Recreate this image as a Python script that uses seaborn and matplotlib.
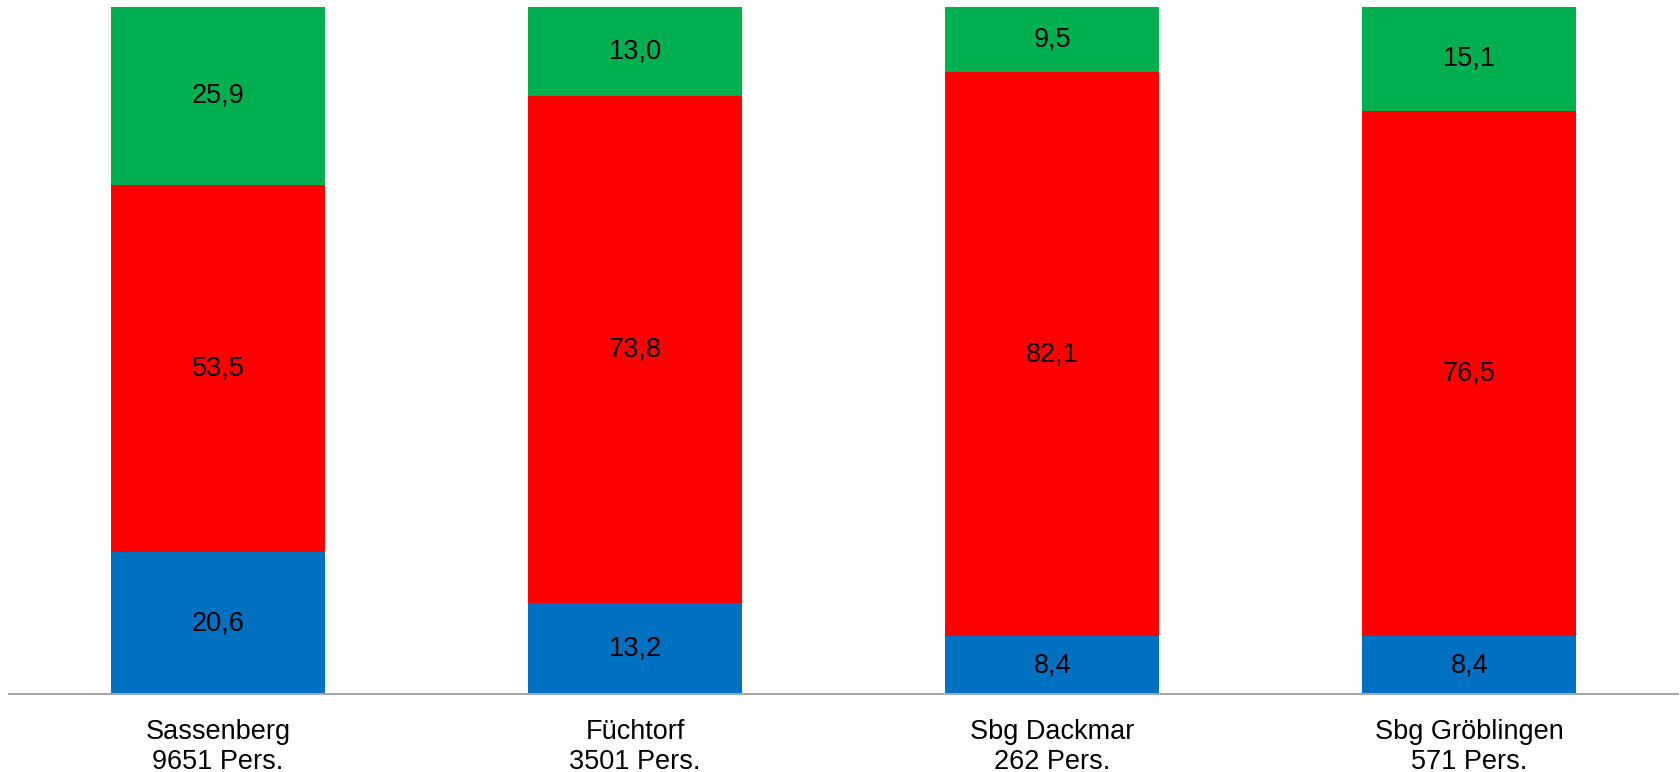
import matplotlib
matplotlib.use("Agg")
import matplotlib.pyplot as plt
import seaborn as sns
import pandas as pd
import numpy as np

categories = ["Sassenberg\n9651 Pers.", "Füchtorf\n3501 Pers.", "Sbg Dackmar\n262 Pers.", "Sbg Gröblingen\n571 Pers."]
blue_vals = [20.6, 13.2, 8.4, 8.4]
red_vals = [53.5, 73.8, 82.1, 76.5]
green_vals = [25.9, 13.0, 9.5, 15.1]

c_blue = "#0070C0"
c_red = "#FF0000"
c_green = "#00B050"

sns.set_theme(style="white")
plt.rcParams['font.family'] = ['Liberation Sans', 'DejaVu Sans']

df = pd.DataFrame({"cat": categories, "blue": blue_vals, "red": red_vals, "green": green_vals})
df["cum_blue"] = df["blue"]
df["cum_red"] = df["blue"] + df["red"]
df["cum_green"] = df["cum_red"] + df["green"]

fig = plt.figure(figsize=(16.81, 7.72), dpi=100)
ax = fig.add_axes([9.4 / 1681, (772 - 694) / 772, (1678 - 9.4) / 1681, (694 - 7) / 772])

w = 0.513
sns.barplot(data=df, x="cat", y="cum_green", color=c_green, width=w, linewidth=0, saturation=1, ax=ax)
sns.barplot(data=df, x="cat", y="cum_red", color=c_red, width=w, linewidth=0, saturation=1, ax=ax)
sns.barplot(data=df, x="cat", y="cum_blue", color=c_blue, width=w, linewidth=0, saturation=1, ax=ax)

fs = 19.5
for i, row in df.iterrows():
    ax.text(i, row["blue"] / 2, f"{row['blue']:.1f}".replace(".", ","), ha="center", va="center", fontsize=fs, color="black")
    ax.text(i, row["cum_blue"] + row["red"] / 2, f"{row['red']:.1f}".replace(".", ","), ha="center", va="center", fontsize=fs, color="black")
    ax.text(i, row["cum_red"] + row["green"] / 2, f"{row['green']:.1f}".replace(".", ","), ha="center", va="center", fontsize=fs, color="black")

ax.set_xlim(-0.5, 3.5)
ax.set_ylim(0, 100)
ax.set_xlabel("")
ax.set_ylabel("")
ax.set_yticks([])
ax.tick_params(axis="x", length=0, pad=18, labelsize=fs, colors="black")
for lbl in ax.get_xticklabels():
    lbl.set_linespacing(1.2)
for s in ["top", "left", "right"]:
    ax.spines[s].set_visible(False)
ax.spines["bottom"].set_color("#A6A6A6")
ax.spines["bottom"].set_linewidth(1.5)
ax.set_facecolor("white")
fig.patch.set_facecolor("white")

fig.savefig("out.png", dpi=100)
